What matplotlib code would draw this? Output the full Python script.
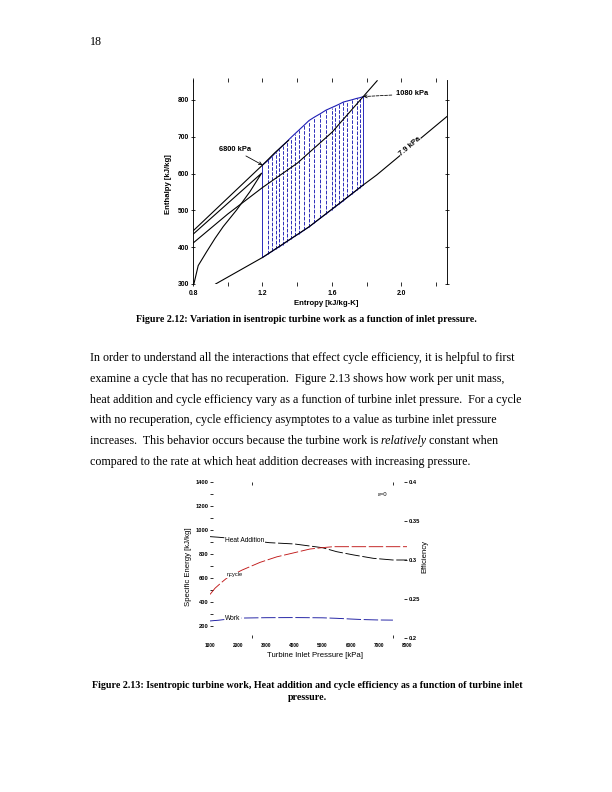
import matplotlib
matplotlib.use("Agg")
import matplotlib.pyplot as plt
import numpy as np

# ---------------- Figure 2.12 data (h-s diagram) ----------------
dome_s = [0.805, 0.83, 0.879, 0.927, 0.974, 1.051, 1.128, 1.195, 0.80]
dome_h = [300, 350, 388, 424, 456, 501, 551, 601, 435]
isobar_6800_s = [0.80, 1.20, 1.27, 1.35]
isobar_6800_h = [444, 623, 656, 690]
isobar_1080_s = [0.80, 1.00, 1.20, 1.40, 1.60, 1.78, 1.86]
isobar_1080_h = [411, 490, 562, 628, 712, 809, 852]
isobar_79_s = [0.93, 1.20, 1.47, 1.78, 1.857, 2.262]
isobar_79_h = [300, 372, 456, 569, 596, 755]

exp_s = [1.200, 1.233, 1.256, 1.278, 1.297, 1.316, 1.339, 1.362, 1.387, 1.412,
         1.439, 1.468, 1.498, 1.531, 1.565, 1.598, 1.617, 1.640, 1.665, 1.688,
         1.713, 1.742, 1.761, 1.780]
exp_h_in = [623, 636, 647, 658, 667, 676, 686, 697, 708, 719,
            731, 744, 753, 762, 772, 779, 783, 788, 794, 797,
            800, 804, 806, 809]
exp_h_out = [372, 382, 389, 396, 401, 407, 415, 422, 430, 437,
             446, 455, 466, 478, 490, 502, 509, 517, 526, 535,
             544, 555, 562, 569]

x1_ticks = [0.8, 1.0, 1.2, 1.4, 1.6, 1.8, 2.0, 2.2]
x1_labels = ["0.8", "", "1.2", "", "1.6", "", "2.0", ""]
y1_ticks = [300, 400, 500, 600, 700, 800]

# ---------------- Figure 2.13 data ----------------
heat_p = [1000, 1300, 2000, 3100, 4000, 5000, 5500, 6100, 6800, 7500, 8000]
heat_q = [944, 939, 925, 894, 883, 852, 819, 792, 764, 750, 750]
eff_p = [1000, 1180, 1415, 1600, 2130, 2780, 3370, 3960, 4550, 4970, 5380, 6000, 7000, 8000]
eff_v = [0.256, 0.264, 0.2715, 0.277, 0.287, 0.297, 0.304, 0.309, 0.314, 0.3157, 0.317, 0.317, 0.317, 0.317]
work_p = [1000, 1300, 1600, 2100, 3000, 4000, 5000, 5500, 6000, 6500, 7000, 7500]
work_w = [244, 250, 258, 268, 271, 272, 270, 266, 260, 255, 252, 251]

y2_ticks = [200, 400, 600, 800, 1000, 1200, 1400]
y2_minor = [300, 500, 700, 900, 1100, 1300]
y2r_ticks = [0.2, 0.25, 0.3, 0.35, 0.4]
y2r_labels = ["0.2", "0.25", "0.3", "0.35", "0.4"]
x2_ticks = [1000, 2000, 3000, 4000, 5000, 6000, 7000, 8000]
x2_minor = [2500, 5000, 7500]

W, H = 612, 792
fig = plt.figure(figsize=(W / 72, H / 72), dpi=72)
SANS = "Liberation Sans"
SERIF = "Liberation Serif"


def fx(px):
    return px / W


def fy(py):
    return 1 - py / H


# ---------------- chart 1 ----------------
ax1 = fig.add_axes([fx(193), fy(284), 254 / W, 204 / H])
ax1.set_xlim(0.8, 2.262)
ax1.set_ylim(300, 854)
blue = "#1c1cb4"
for i, (s, hi, ho) in enumerate(zip(exp_s, exp_h_in, exp_h_out)):
    ls = "-" if i in (0, len(exp_s) - 1) else (0, (4, 1.6))
    ax1.plot([s, s], [ho, hi], color=blue, lw=0.9, linestyle=ls)
ax1.plot(exp_s, exp_h_in, color=blue, lw=1.1)
ax1.plot(exp_s, exp_h_out, color=blue, lw=1.1)
ax1.plot(dome_s, dome_h, color="black", lw=1.1)
ax1.plot(isobar_6800_s, isobar_6800_h, color="black", lw=1.1)
ax1.plot(isobar_1080_s, isobar_1080_h, color="black", lw=1.1)
ax1.plot(isobar_79_s, isobar_79_h, color="black", lw=1.1)

ax1.annotate("6800 kPa", xy=(1.2, 623), xytext=(1.042, 664), fontsize=7.5, fontweight="bold",
             family=SANS, ha="center", va="center",
             arrowprops=dict(arrowstyle="->", lw=0.8, color="black", shrinkA=1, shrinkB=0))
ax1.annotate("1080 kPa", xy=(1.78, 809), xytext=(2.06, 816), fontsize=7.5, fontweight="bold",
             family=SANS, ha="center", va="center",
             arrowprops=dict(arrowstyle="->", lw=0.8, color="black", linestyle="--",
                             shrinkA=2, shrinkB=0))
ax1.text(2.05, 673, "7.9 kPa", fontsize=7.5, fontweight="bold", family=SANS, rotation=40,
         ha="center", va="center", bbox=dict(facecolor="white", edgecolor="none", pad=0.2))

ax1.set_xticks(x1_ticks)
ax1.set_xticklabels(x1_labels)
ax1.set_yticks(y1_ticks)
ax1.tick_params(direction="inout", length=4, width=0.8, labelsize=6.8, top=True, right=True)
ax1.tick_params(axis="x", pad=4.0)
ax1.tick_params(axis="y", pad=2.0)
for lab in ax1.get_xticklabels() + ax1.get_yticklabels():
    lab.set_fontweight("bold")
    lab.set_family(SANS)
ax1.spines["top"].set_visible(False)
ax1.spines["bottom"].set_visible(False)
ax1.spines["left"].set_linewidth(0.9)
ax1.spines["right"].set_linewidth(0.9)
ax1.set_xlabel("Entropy [kJ/kg-K]", fontsize=7.8, fontweight="bold", family=SANS)
ax1.set_ylabel("Enthalpy [kJ/kg]", fontsize=7.8, fontweight="bold", family=SANS)
ax1.xaxis.set_label_coords(0.523, -0.098)
ax1.yaxis.set_label_coords(-0.098, 0.49)
ax1.xaxis.label.set_va("center")
ax1.yaxis.label.set_va("center")

# ---------------- chart 2 ----------------
ax2 = fig.add_axes([fx(210), fy(638.3), 197 / W, 156.6 / H])
ax2.set_xlim(1000, 8000)
ax2.set_ylim(100, 1400)
ax2r = ax2.twinx()
ax2r.set_ylim(0.2, 0.4)
dash = (0, (16, 3))
ax2.plot(heat_p, heat_q, color="black", lw=0.9, linestyle=dash)
ax2.plot(work_p, work_w, color="#1818a0", lw=0.9, linestyle=dash)
ax2r.plot(eff_p, eff_v, color="#c01818", lw=0.9, linestyle=dash)

tb = dict(facecolor="white", edgecolor="none", pad=0.3)
ax2r.set_zorder(ax2.get_zorder() + 1)
ax2r.patch.set_visible(False)
ax2r.text(1533, 0.2 + (910 - 100) / 1300 * 0.2, "Heat Addition", fontsize=6.6, family=SANS,
          ha="left", va="center", bbox=tb, zorder=5)
ax2r.text(1593, 0.2 + (626 - 100) / 1300 * 0.2, "ηcycle", fontsize=5.6, family=SANS,
          ha="left", va="center", bbox=tb, zorder=5)
ax2r.text(1533, 0.2 + (266 - 100) / 1300 * 0.2, "Work", fontsize=6.6, family=SANS,
          ha="left", va="center", bbox=tb, zorder=5)
ax2r.text(6970, 0.2 + (1290 - 100) / 1300 * 0.2, "ε=0", fontsize=6, family=SANS,
          ha="left", va="center", zorder=5)

ax2.set_xticks(x2_ticks)
ax2.set_xticks(x2_minor, minor=True)
ax2.set_yticks(y2_ticks)
ax2.set_yticks(y2_minor, minor=True)
ax2r.set_yticks(y2r_ticks)
ax2r.set_yticklabels(y2r_labels)
ax2.tick_params(axis="x", which="major", length=0, labelsize=4.8, pad=4.5)
ax2.tick_params(axis="x", which="minor", direction="in", length=3, width=0.8, top=True, bottom=True)
ax2.tick_params(axis="y", which="both", direction="in", length=3, width=0.8, labelsize=5.8, pad=1.5)
ax2r.tick_params(axis="y", direction="in", length=3, width=0.8, labelsize=5.8, pad=1.5)
for lab in ax2.get_xticklabels() + ax2.get_yticklabels() + ax2r.get_yticklabels():
    lab.set_fontweight("bold")
    lab.set_family(SANS)
for a in (ax2, ax2r):
    for sp in a.spines.values():
        sp.set_visible(False)
ax2.set_xlabel("Turbine Inlet Pressure [kPa]", fontsize=7.8, family=SANS)
ax2.set_ylabel("Specific Energy [kJ/kg]", fontsize=7.8, family=SANS)
ax2r.set_ylabel("Efficiency", fontsize=7.8, family=SANS)
ax2.xaxis.set_label_coords(0.533, -0.107)
ax2.yaxis.set_label_coords(-0.11, 0.46)
ax2r.yaxis.set_label_coords(1.09, 0.52)
for lbl in (ax2.xaxis.label, ax2.yaxis.label, ax2r.yaxis.label):
    lbl.set_va("center")

# ---------------- page text ----------------
fig.text(fx(90), fy(42), "18", fontsize=12, family=SERIF, ha="left", va="center")
fig.text(fx(306), fy(319),
         "Figure 2.12: Variation in isentropic turbine work as a function of inlet pressure.",
         fontsize=10, fontweight="bold", family=SERIF, ha="center", va="center")
fig.text(fx(307), fy(685),
         "Figure 2.13: Isentropic turbine work, Heat addition and cycle efficiency as a function of turbine inlet",
         fontsize=10, fontweight="bold", family=SERIF, ha="center", va="center")
fig.text(fx(307), fy(698), "pressure.", fontsize=10, fontweight="bold", family=SERIF,
         ha="center", va="center")

body = [
    "In order to understand all the interactions that effect cycle efficiency, it is helpful to first",
    "examine a cycle that has no recuperation.  Figure 2.13 shows how work per unit mass,",
    "heat addition and cycle efficiency vary as a function of turbine inlet pressure.  For a cycle",
    "with no recuperation, cycle efficiency asymptotes to a value as turbine inlet pressure",
    None,
    "compared to the rate at which heat addition decreases with increasing pressure.",
]
body_y = [358, 379, 399.5, 420, 441, 462]
BFS = 12
renderer = fig.canvas.get_renderer()
for line, y in zip(body, body_y):
    if line is not None:
        fig.text(fx(90), fy(y), line, fontsize=BFS, family=SERIF, ha="left", va="center")
    else:
        t1 = fig.text(fx(90), fy(y), "increases.  This behavior occurs because the turbine work is",
                      fontsize=BFS, family=SERIF, ha="left", va="center")
        bb = t1.get_window_extent(renderer)
        t2 = fig.text(bb.x1 / fig.bbox.width, fy(y), " relatively", fontsize=BFS, family=SERIF,
                      style="italic", ha="left", va="center")
        bb2 = t2.get_window_extent(renderer)
        fig.text(bb2.x1 / fig.bbox.width, fy(y), " constant when", fontsize=BFS, family=SERIF,
                 ha="left", va="center")

fig.savefig("out.png", dpi=72)
